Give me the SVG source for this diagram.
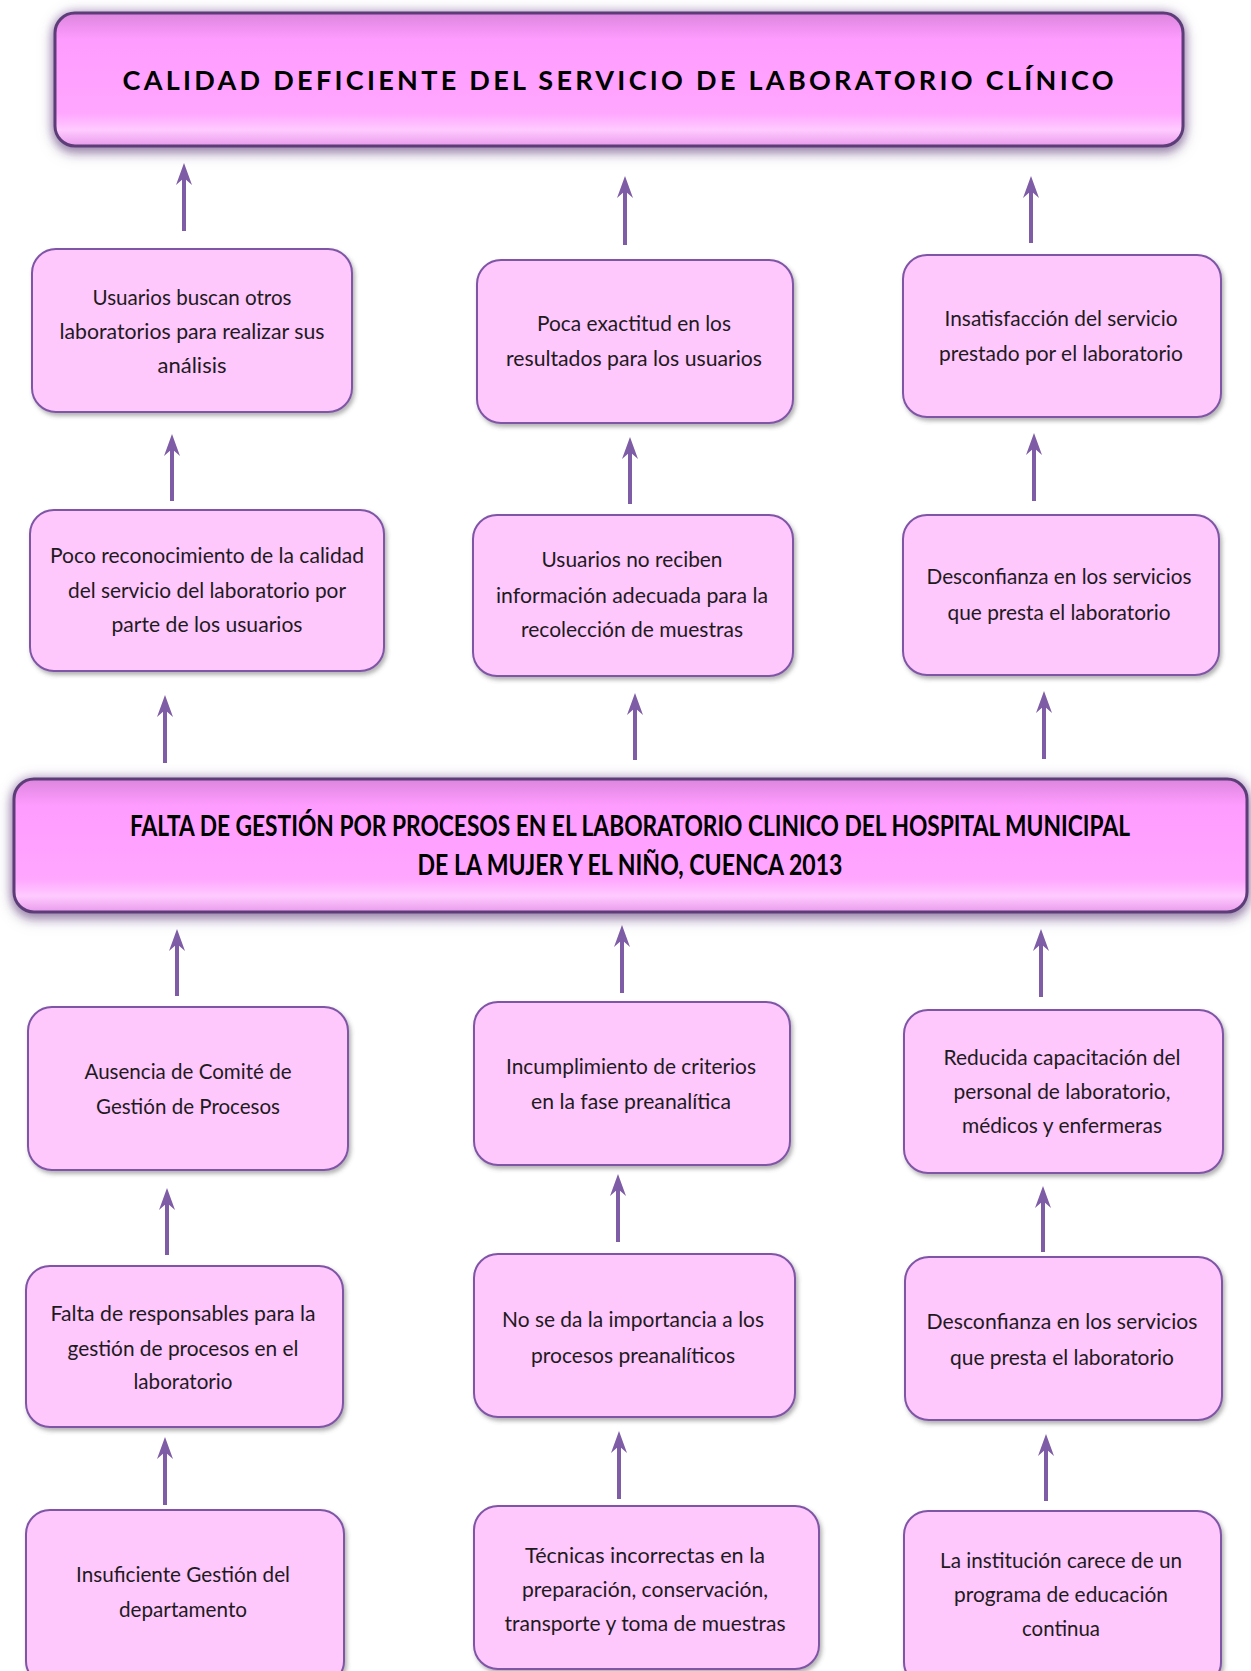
<svg xmlns="http://www.w3.org/2000/svg" width="1251" height="1671" viewBox="0 0 1251 1671">
<defs>
<style>
.box{fill:#FFC8FD;stroke:#7F55A6;stroke-width:2;filter:url(#sh)}
.bn{fill:url(#bg);stroke:#5C3C78;stroke-width:3;filter:url(#glow)}
.t{font-family:Lato,"Liberation Sans",sans-serif;font-size:22px;fill:#1e1a1e;text-anchor:middle}
.bt{font-family:Lato,"Liberation Sans",sans-serif;font-weight:bold;fill:#000;text-anchor:middle}
.ar{stroke:#7E5CA6;stroke-width:4;fill:none;marker-end:url(#ah)}
</style>
<linearGradient id="bg" x1="0" y1="0" x2="0" y2="1">
<stop offset="0" stop-color="#DC86DE"/>
<stop offset="0.2" stop-color="#FF9CFF"/>
<stop offset="0.75" stop-color="#FFA6FF"/>
<stop offset="0.88" stop-color="#FFCBFF"/>
<stop offset="1" stop-color="#E89BEB"/>
</linearGradient>
<filter id="sh" x="-10%" y="-10%" width="125%" height="130%">
<feDropShadow dx="2" dy="3" stdDeviation="2" flood-color="#555" flood-opacity="0.45"/>
</filter>
<filter id="glow" x="-5%" y="-30%" width="110%" height="160%">
<feDropShadow dx="0" dy="0" stdDeviation="6" flood-color="#8E6AA8" flood-opacity="0.6"/>
<feDropShadow dx="0" dy="5" stdDeviation="4" flood-color="#4B2F63" flood-opacity="0.5"/>
</filter>
<marker id="ah" viewBox="0 0 22 18" refX="10" refY="9" markerWidth="22" markerHeight="18" orient="auto" markerUnits="userSpaceOnUse">
<path d="M0,1 L22,9 L0,17 L7,9 z" fill="#7E5CA6"/>
</marker>
</defs>
<rect width="1251" height="1671" fill="#fff"/>

<g id="connectors">
<line class="ar" x1="184" y1="231" x2="184" y2="175"/>
<line class="ar" x1="625" y1="245" x2="625" y2="188"/>
<line class="ar" x1="1031" y1="243" x2="1031" y2="188"/>
<line class="ar" x1="172" y1="501" x2="172" y2="446"/>
<line class="ar" x1="630" y1="504" x2="630" y2="449"/>
<line class="ar" x1="1034" y1="501" x2="1034" y2="445"/>
<line class="ar" x1="165" y1="763" x2="165" y2="707"/>
<line class="ar" x1="635" y1="760" x2="635" y2="705"/>
<line class="ar" x1="1044" y1="759" x2="1044" y2="703"/>
<line class="ar" x1="177" y1="996" x2="177" y2="941"/>
<line class="ar" x1="622" y1="993" x2="622" y2="937"/>
<line class="ar" x1="1041" y1="997" x2="1041" y2="941"/>
<line class="ar" x1="167" y1="1255" x2="167" y2="1200"/>
<line class="ar" x1="618" y1="1242" x2="618" y2="1186"/>
<line class="ar" x1="1043" y1="1252" x2="1043" y2="1198"/>
<line class="ar" x1="165" y1="1505" x2="165" y2="1449"/>
<line class="ar" x1="619" y1="1499" x2="619" y2="1443"/>
<line class="ar" x1="1046" y1="1501" x2="1046" y2="1446"/>
</g>

<g id="top-banner">
<rect class="bn" x="55" y="13" width="1128" height="133" rx="20"/>
<text class="bt" x="618" y="90" font-size="27" textLength="991">CALIDAD DEFICIENTE DEL SERVICIO DE LABORATORIO CLÍNICO</text>
</g>

<g id="a1">
<rect class="box" x="32" y="249" width="320" height="163" rx="24"/>
<text class="t" x="192" y="305" textLength="199" lengthAdjust="spacingAndGlyphs">Usuarios buscan otros</text>
<text class="t" x="192" y="339" textLength="265" lengthAdjust="spacingAndGlyphs">laboratorios  para realizar sus</text>
<text class="t" x="192" y="373" textLength="69" lengthAdjust="spacingAndGlyphs">análisis</text>
</g>
<g id="b1">
<rect class="box" x="477" y="260" width="316" height="163" rx="24"/>
<text class="t" x="634" y="331" textLength="194" lengthAdjust="spacingAndGlyphs">Poca exactitud en los</text>
<text class="t" x="634" y="366" textLength="256" lengthAdjust="spacingAndGlyphs">resultados para los usuarios</text>
</g>
<g id="c1">
<rect class="box" x="903" y="255" width="318" height="162" rx="24"/>
<text class="t" x="1061" y="326" textLength="233" lengthAdjust="spacingAndGlyphs">Insatisfacción del servicio</text>
<text class="t" x="1061" y="361" textLength="244" lengthAdjust="spacingAndGlyphs">prestado por el laboratorio</text>
</g>

<g id="a2">
<rect class="box" x="30" y="510" width="354" height="161" rx="24"/>
<text class="t" x="207" y="563" textLength="314" lengthAdjust="spacingAndGlyphs">Poco reconocimiento  de la calidad</text>
<text class="t" x="207" y="598" textLength="278" lengthAdjust="spacingAndGlyphs">del servicio del laboratorio por</text>
<text class="t" x="207" y="632" textLength="191" lengthAdjust="spacingAndGlyphs">parte de los usuarios</text>
</g>
<g id="b2">
<rect class="box" x="473" y="515" width="320" height="161" rx="24"/>
<text class="t" x="632" y="567" textLength="181" lengthAdjust="spacingAndGlyphs">Usuarios no reciben</text>
<text class="t" x="632" y="603" textLength="272" lengthAdjust="spacingAndGlyphs">información adecuada para la</text>
<text class="t" x="632" y="637" textLength="222" lengthAdjust="spacingAndGlyphs">recolección de muestras</text>
</g>
<g id="c2">
<rect class="box" x="903" y="515" width="316" height="160" rx="24"/>
<text class="t" x="1059" y="584" textLength="265" lengthAdjust="spacingAndGlyphs">Desconfianza en los servicios</text>
<text class="t" x="1059" y="620" textLength="223" lengthAdjust="spacingAndGlyphs">que presta el laboratorio</text>
</g>

<g id="middle-banner">
<rect class="bn" x="14" y="779" width="1233" height="133" rx="20"/>
<text class="bt" x="630" y="836" font-size="29" textLength="1000" lengthAdjust="spacingAndGlyphs">FALTA DE GESTIÓN POR PROCESOS EN EL LABORATORIO CLINICO DEL HOSPITAL MUNICIPAL</text>
<text class="bt" x="630" y="875" font-size="29" textLength="425" lengthAdjust="spacingAndGlyphs">DE LA MUJER Y EL NIÑO, CUENCA 2013</text>
</g>

<g id="a4">
<rect class="box" x="28" y="1007" width="320" height="163" rx="24"/>
<text class="t" x="188" y="1079" textLength="207" lengthAdjust="spacingAndGlyphs">Ausencia de Comité de</text>
<text class="t" x="188" y="1114" textLength="184" lengthAdjust="spacingAndGlyphs">Gestión de Procesos</text>
</g>
<g id="b4">
<rect class="box" x="474" y="1002" width="316" height="163" rx="24"/>
<text class="t" x="631" y="1074" textLength="250" lengthAdjust="spacingAndGlyphs">Incumplimiento  de criterios</text>
<text class="t" x="631" y="1109" textLength="200" lengthAdjust="spacingAndGlyphs">en la fase preanalítica</text>
</g>
<g id="c4">
<rect class="box" x="904" y="1010" width="319" height="163" rx="24"/>
<text class="t" x="1062" y="1065" textLength="237" lengthAdjust="spacingAndGlyphs">Reducida capacitación del</text>
<text class="t" x="1062" y="1099" textLength="217" lengthAdjust="spacingAndGlyphs">personal de laboratorio,</text>
<text class="t" x="1062" y="1133" textLength="200" lengthAdjust="spacingAndGlyphs">médicos y enfermeras</text>
</g>

<g id="a5">
<rect class="box" x="26" y="1266" width="317" height="161" rx="24"/>
<text class="t" x="183" y="1321" textLength="265" lengthAdjust="spacingAndGlyphs">Falta de responsables para la</text>
<text class="t" x="183" y="1356" textLength="231" lengthAdjust="spacingAndGlyphs">gestión de procesos en el</text>
<text class="t" x="183" y="1389" textLength="99" lengthAdjust="spacingAndGlyphs">laboratorio</text>
</g>
<g id="b5">
<rect class="box" x="474" y="1254" width="321" height="163" rx="24"/>
<text class="t" x="633" y="1327" textLength="262" lengthAdjust="spacingAndGlyphs">No se da la importancia  a los</text>
<text class="t" x="633" y="1363" textLength="204" lengthAdjust="spacingAndGlyphs">procesos preanalíticos</text>
</g>
<g id="c5">
<rect class="box" x="905" y="1257" width="317" height="163" rx="24"/>
<text class="t" x="1062" y="1329" textLength="271" lengthAdjust="spacingAndGlyphs">Desconfianza  en los servicios</text>
<text class="t" x="1062" y="1365" textLength="224" lengthAdjust="spacingAndGlyphs">que presta el laboratorio</text>
</g>

<g id="a6">
<rect class="box" x="26" y="1510" width="318" height="175" rx="24"/>
<text class="t" x="183" y="1582" textLength="214" lengthAdjust="spacingAndGlyphs">Insuficiente Gestión del</text>
<text class="t" x="183" y="1617" textLength="128" lengthAdjust="spacingAndGlyphs">departamento</text>
</g>
<g id="b6">
<rect class="box" x="474" y="1506" width="345" height="163" rx="24"/>
<text class="t" x="645" y="1563" textLength="240" lengthAdjust="spacingAndGlyphs">Técnicas incorrectas  en la</text>
<text class="t" x="645" y="1597" textLength="246" lengthAdjust="spacingAndGlyphs">preparación, conservación,</text>
<text class="t" x="645" y="1631" textLength="281" lengthAdjust="spacingAndGlyphs">transporte  y toma de muestras</text>
</g>
<g id="c6">
<rect class="box" x="904" y="1511" width="317" height="175" rx="24"/>
<text class="t" x="1061" y="1568" textLength="242" lengthAdjust="spacingAndGlyphs">La institución carece de un</text>
<text class="t" x="1061" y="1602" textLength="214" lengthAdjust="spacingAndGlyphs">programa de educación</text>
<text class="t" x="1061" y="1636" textLength="78" lengthAdjust="spacingAndGlyphs">continua</text>
</g>
</svg>
